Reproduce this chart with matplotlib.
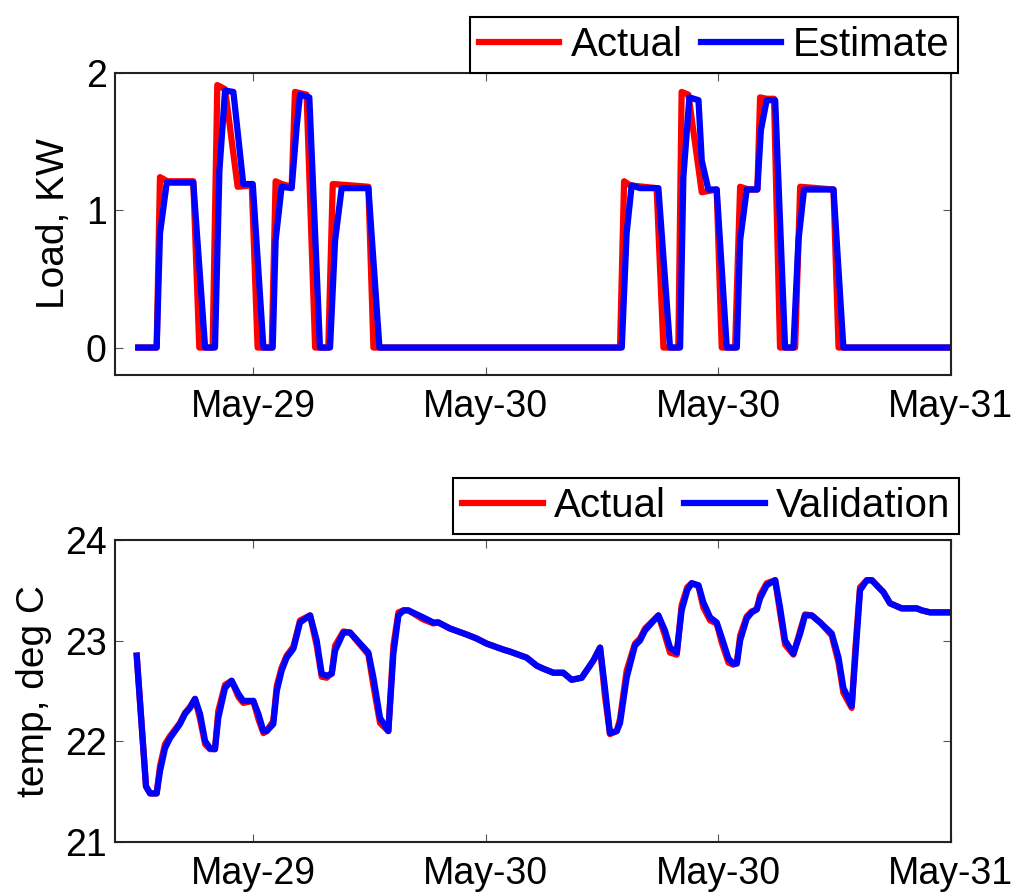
import matplotlib
matplotlib.use('Agg')
import matplotlib.pyplot as plt

plt.rcParams['font.family'] = ['Liberation Sans', 'DejaVu Sans']

# hours since May-29 00:00
tick_hours = [12, 24, 36, 48]
tick_labels = ['May-29', 'May-30', 'May-30', 'May-31']

# load, actual (red)
load_act_h = [6.06, 7.01, 7.18, 7.56, 8.90, 9.21, 9.90, 10.14, 10.54, 11.19, 11.92, 12.22,
              12.95, 13.15, 13.46, 13.98, 14.15, 14.75, 15.19, 15.87, 16.10, 17.94, 18.20,
              30.93, 31.14, 31.45, 32.82, 33.17, 33.94, 34.11, 34.46, 35.15, 35.92, 36.18,
              36.87, 37.13, 37.56, 38.02, 38.16, 38.50, 38.88, 39.19, 39.97, 40.23, 41.95,
              42.21, 48.0]
load_act = [0, 0, 1.24, 1.21, 1.21, 0, 0, 1.91, 1.88, 1.17, 1.18, 0,
            0, 1.21, 1.19, 1.17, 1.86, 1.84, 0, 0, 1.19, 1.17, 0,
            0, 1.21, 1.18, 1.16, 0, 0, 1.86, 1.84, 1.13, 1.15, 0,
            0, 1.17, 1.15, 1.15, 1.82, 1.81, 1.81, 0, 0, 1.17, 1.15,
            0, 0]

# load, estimate (blue)
load_est_h = [6.06, 7.01, 7.18, 7.53, 8.90, 9.51, 10.02, 10.25, 10.54, 10.97, 11.48, 11.97,
              12.52, 13.00, 13.15, 13.46, 13.98, 14.24, 14.41, 14.89, 15.44, 15.96, 16.22,
              16.56, 17.94, 18.51, 31.02, 31.27, 31.53, 31.96, 32.91, 33.51, 34.03, 34.20,
              34.51, 34.98, 35.15, 35.49, 35.92, 36.44, 36.96, 37.13, 37.47, 38.02, 38.20,
              38.50, 38.94, 39.45, 39.88, 40.14, 40.43, 41.95, 42.46, 48.0]
load_est = [0, 0, 0.83, 1.20, 1.20, 0, 0, 1.29, 1.87, 1.86, 1.19, 1.19,
            0, 0, 0.78, 1.17, 1.16, 1.61, 1.84, 1.82, 0, 0, 0.78,
            1.16, 1.16, 0, 0, 0.83, 1.18, 1.16, 1.16, 0, 0, 1.24,
            1.82, 1.80, 1.36, 1.15, 1.15, 0, 0, 0.78, 1.15, 1.15, 1.58,
            1.80, 1.80, 0, 0, 0.78, 1.15, 1.15, 0, 0]

# room temperature
temp_h = [5.98, 6.46, 6.67, 7.01, 7.18, 7.44, 7.70, 8.21, 8.47, 8.73, 8.99, 9.25, 9.51,
          9.76, 10.02, 10.19, 10.54, 10.88, 11.23, 11.48, 12.00, 12.26, 12.52, 12.69,
          13.03, 13.21, 13.46, 13.72, 14.07, 14.41, 14.93, 15.27, 15.53, 15.79, 16.05,
          16.22, 16.65, 16.99, 17.94, 18.20, 18.54, 18.97, 19.23, 19.49, 19.75, 20.00,
          20.77, 21.29, 21.55, 22.15, 23.01, 23.53, 24.04, 24.91, 25.25, 26.11, 26.63,
          26.97, 27.49, 28.00, 28.43, 28.95, 29.55, 29.90, 30.15, 30.41, 30.76, 30.93,
          31.27, 31.70, 31.96, 32.22, 32.91, 33.25, 33.51, 33.86, 34.11, 34.40, 34.63,
          34.98, 35.23, 35.58, 35.92, 36.18, 36.53, 36.78, 36.96, 37.13, 37.47, 37.73,
          37.99, 38.16, 38.50, 38.94, 39.19, 39.45, 39.88, 40.23, 40.48, 40.83, 41.26,
          41.86, 42.21, 42.46, 42.89, 43.07, 43.32, 43.67, 43.93, 44.53, 44.87, 45.47,
          46.25, 46.51, 46.94, 48.00]
temp_valid = [22.85, 21.55, 21.48, 21.48, 21.70, 21.93, 22.03, 22.17, 22.27, 22.33, 22.42, 22.27, 22.00,
              21.93, 21.92, 22.23, 22.53, 22.60, 22.47, 22.40, 22.40, 22.27, 22.10, 22.10,
              22.17, 22.50, 22.70, 22.83, 22.92, 23.18, 23.25, 23.00, 22.67, 22.65, 22.67,
              22.90, 23.08, 23.08, 22.88, 22.63, 22.23, 22.10, 22.87, 23.25, 23.30, 23.30,
              23.23, 23.18, 23.18, 23.12, 23.06, 23.02, 22.97, 22.91, 22.89, 22.83, 22.75,
              22.72, 22.68, 22.68, 22.61, 22.63, 22.80, 22.93, 22.53, 22.08, 22.10, 22.18,
              22.63, 22.95, 23.00, 23.10, 23.25, 23.10, 22.93, 22.88, 23.30, 23.50, 23.57,
              23.55, 23.38, 23.23, 23.18, 23.03, 22.82, 22.77, 22.77, 23.00, 23.22, 23.28,
              23.31, 23.42, 23.55, 23.60, 23.33, 23.00, 22.87, 23.07, 23.25, 23.25, 23.18,
              23.07, 22.83, 22.53, 22.35, 22.82, 23.50, 23.60, 23.60, 23.48, 23.37, 23.32,
              23.32, 23.30, 23.28, 23.28]
temp_act = [22.85, 21.55, 21.48, 21.48, 21.75, 21.97, 22.05, 22.18, 22.28, 22.34, 22.42, 22.22, 21.97,
            21.92, 21.92, 22.30, 22.56, 22.60, 22.44, 22.38, 22.40, 22.22, 22.08, 22.10,
            22.20, 22.55, 22.73, 22.85, 22.94, 23.20, 23.25, 22.95, 22.64, 22.63, 22.68,
            22.95, 23.09, 23.08, 22.86, 22.55, 22.18, 22.10, 22.95, 23.28, 23.30, 23.30,
            23.21, 23.17, 23.18, 23.12, 23.06, 23.02, 22.97, 22.91, 22.89, 22.83, 22.75,
            22.72, 22.68, 22.68, 22.61, 22.63, 22.80, 22.93, 22.45, 22.07, 22.10, 22.22,
            22.70, 22.97, 23.02, 23.12, 23.25, 23.05, 22.88, 22.86, 23.35, 23.53, 23.57,
            23.54, 23.33, 23.20, 23.17, 22.98, 22.78, 22.76, 22.78, 23.05, 23.24, 23.29,
            23.31, 23.45, 23.57, 23.60, 23.28, 22.96, 22.86, 23.10, 23.26, 23.25, 23.18,
            23.05, 22.78, 22.48, 22.33, 22.90, 23.53, 23.60, 23.60, 23.48, 23.37, 23.32,
            23.32, 23.30, 23.28, 23.28]

fs = 27
leg_fs = 29
lw = 4.5

fig = plt.figure(figsize=(10.17, 8.94), dpi=100)
ax1 = fig.add_axes([0.1131, 0.5805, 0.8217, 0.3382])
ax2 = fig.add_axes([0.1131, 0.0585, 0.8217, 0.3375])


def style(ax):
    ax.set_xlim(4.86, 48)
    ax.set_xticks(tick_hours)
    ax.set_xticklabels(tick_labels)
    ax.tick_params(direction='in', top=True, right=True, length=6, width=0.8,
                   color='#555555', labelsize=fs)
    ax.tick_params(axis='x', pad=10)
    ax.tick_params(axis='y', pad=6)
    for s in ax.spines.values():
        s.set_linewidth(1.5)
        s.set_color('#222222')


def add_legend(ax, anchor):
    leg = ax.legend(loc='lower right', bbox_to_anchor=anchor, ncol=2, fontsize=leg_fs,
                    frameon=True, fancybox=False, framealpha=1, edgecolor='black',
                    borderaxespad=0, handlelength=2.0, handletextpad=0.28,
                    columnspacing=0.45, borderpad=0.22)
    leg.get_frame().set_linewidth(1.5)


# top: load
ax1.plot(load_act_h, load_act, color='red', lw=lw, label='Actual')
ax1.plot(load_est_h, load_est, color='blue', lw=lw, label='Estimate')
style(ax1)
ax1.set_ylim(-0.2, 2)
ax1.set_yticks([0, 1, 2])
ax1.set_ylabel('Load, KW', fontsize=28)
ax1.yaxis.set_label_coords(-0.052, 0.5)
add_legend(ax1, (1.0087, 1.0))

# bottom: temperature
ax2.plot(temp_h, temp_act, color='red', lw=lw, label='Actual')
ax2.plot(temp_h, temp_valid, color='blue', lw=lw, label='Validation')
style(ax2)
ax2.set_ylim(21, 24)
ax2.set_yticks([21, 22, 23, 24])
ax2.set_ylabel('temp, deg C', fontsize=28)
ax2.yaxis.set_label_coords(-0.076, 0.5)
add_legend(ax2, (1.01, 1.02))

fig.savefig('out.png', dpi=100)
